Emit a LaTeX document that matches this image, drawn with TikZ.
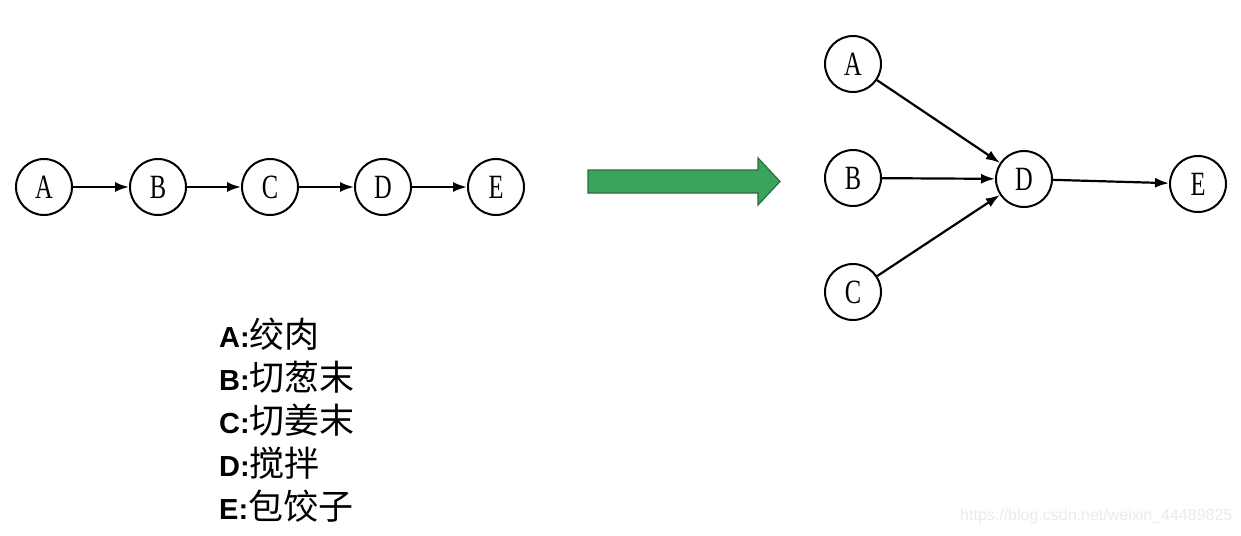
\documentclass[tikz,border=0pt]{standalone}
\usepackage{fontspec}
\setmainfont{Liberation Serif}
\setsansfont{Liberation Sans}
\newfontfamily\cjk{Noto Sans CJK SC}
\usetikzlibrary{arrows.meta}
\definecolor{arrgreen}{HTML}{3AA55A}
\definecolor{arredge}{HTML}{2F6A42}
\tikzset{
  vtx/.style={circle,draw=black,line width=2pt,minimum size=56pt,inner sep=0pt,
    font=\fontsize{34}{34}\selectfont},
  edge/.style={line width=2.2pt,-{Latex[length=14pt,width=10pt]}},
  legend/.style={anchor=west,font=\fontsize{29}{30}\selectfont\sffamily\bfseries,inner sep=0pt},
}
\newcommand{\lbl}[1]{\scalebox{0.72}[1]{#1}}
\newcommand{\zh}[1]{{\cjk\mdseries\fontsize{35}{35}\selectfont #1}}
\begin{document}
\begin{tikzpicture}[x=1pt,y=-1pt]
\useasboundingbox (0,0) rectangle (1241,535);
\fill[white] (0,0) rectangle (1241,535);
% left chain
\node[vtx] (lA) at (44,187) {\lbl{A}};
\node[vtx] (lB) at (158,187) {\lbl{B}};
\node[vtx] (lC) at (270,187) {\lbl{C}};
\node[vtx] (lD) at (383,187) {\lbl{D}};
\node[vtx] (lE) at (496,187) {\lbl{E}};
\draw[edge] (lA) -- (lB);
\draw[edge] (lB) -- (lC);
\draw[edge] (lC) -- (lD);
\draw[edge] (lD) -- (lE);
% big green arrow
\filldraw[fill=arrgreen,draw=arredge,line width=1.2pt]
  (588,170) -- (758,170) -- (758,158) -- (780,181.5) -- (758,205) -- (758,193) -- (588,193) -- cycle;
% right graph
\node[vtx] (rA) at (853,64) {\lbl{A}};
\node[vtx] (rB) at (853,178) {\lbl{B}};
\node[vtx] (rC) at (853,292) {\lbl{C}};
\node[vtx] (rD) at (1024,179) {\lbl{D}};
\node[vtx] (rE) at (1198,184) {\lbl{E}};
\draw[edge] (rA) -- (rD);
\draw[edge] (rB) -- (rD);
\draw[edge] (rC) -- (rD);
\draw[edge] (rD) -- (rE);
% legend
\node[legend] (t1) at (219,334) {A:\zh{绞肉}};
\node[legend] (t2) at (219,377) {B:\zh{切葱末}};
\node[legend] (t3) at (219,420) {C:\zh{切姜末}};
\node[legend] (t4) at (219,463) {D:\zh{搅拌}};
\node[legend] (t5) at (219,506) {E:\zh{包饺子}};
% watermark
\node[anchor=west,inner sep=0pt,text=black!8,font=\fontsize{16}{16}\selectfont\sffamily] (wm) at (960,516) {https://blog.csdn.net/weixin\_44489825};
\end{tikzpicture}
\end{document}
